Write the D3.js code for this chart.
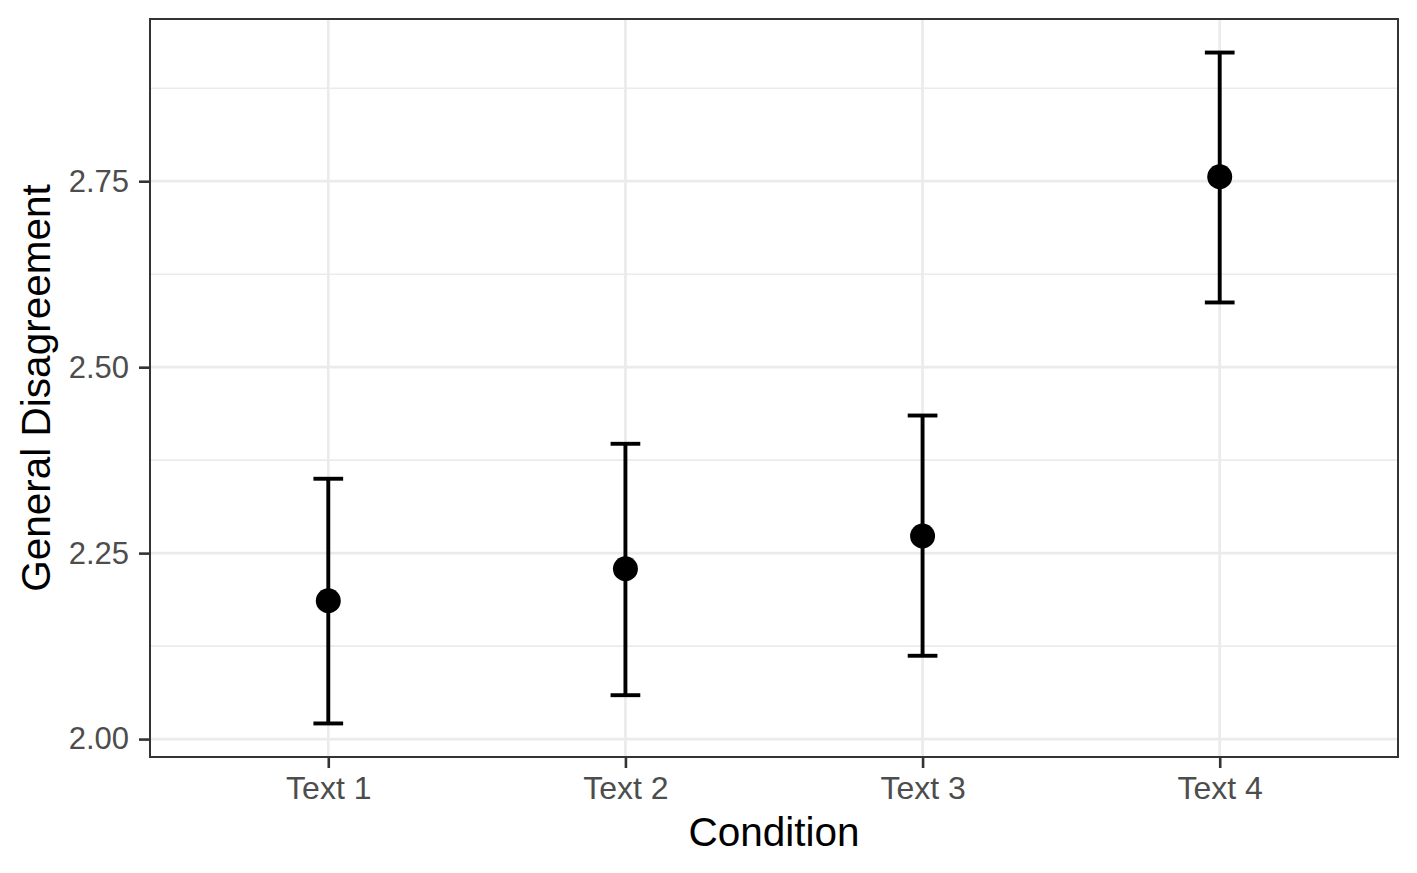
<!DOCTYPE html>
<html>
<head>
<meta charset="utf-8">
<script src="https://cdn.jsdelivr.net/npm/d3@7"></script>
<style>
  body { margin: 0; background: #fff; }
  text { font-family: "Liberation Sans", Arial, Helvetica, sans-serif; }
</style>
</head>
<body>
<script>
// values
const conditions = ["Text 1", "Text 2", "Text 3", "Text 4"];
const means = [2.186, 2.229, 2.273, 2.756];
const lower = [2.021, 2.059, 2.112, 2.587];
const upper = [2.350, 2.397, 2.435, 2.923];
const yTicks = [2.00, 2.25, 2.50, 2.75];
const yMinor = [2.125, 2.375, 2.625, 2.875];

const width = 1417, height = 873;
const panel = { left: 150, right: 1398, top: 19, bottom: 757 };

const svg = d3.select("body").append("svg")
    .attr("width", width)
    .attr("height", height);

// ggplot-like 5% expansion of the data range
const lo = d3.min(lower), hi = d3.max(upper);
const pad = (hi - lo) * 0.05;

const y = d3.scaleLinear()
    .domain([lo - pad, hi + pad])
    .range([panel.bottom, panel.top]);

const x = d3.scalePoint()
    .domain(conditions)
    .range([panel.left, panel.right])
    .padding(0.6);

const capHalf = x.step() * 0.05;

// grid
svg.append("g").selectAll("line")
    .data(yMinor)
    .enter().append("line")
    .attr("x1", panel.left).attr("x2", panel.right)
    .attr("y1", d => y(d)).attr("y2", d => y(d))
    .style("stroke", "#ebebeb")
    .style("stroke-width", 1.6);

svg.append("g").selectAll("line")
    .data(yTicks)
    .enter().append("line")
    .attr("x1", panel.left).attr("x2", panel.right)
    .attr("y1", d => y(d)).attr("y2", d => y(d))
    .style("stroke", "#ebebeb")
    .style("stroke-width", 2.7);

svg.append("g").selectAll("line")
    .data(conditions)
    .enter().append("line")
    .attr("x1", d => x(d)).attr("x2", d => x(d))
    .attr("y1", panel.top).attr("y2", panel.bottom)
    .style("stroke", "#ebebeb")
    .style("stroke-width", 2.7);

// error bars
const rows = conditions.map((c, i) => ({ c: c, m: means[i], lo: lower[i], hi: upper[i] }));

const bars = svg.append("g").selectAll("g")
    .data(rows)
    .enter().append("g");

bars.append("line")
    .attr("x1", d => x(d.c)).attr("x2", d => x(d.c))
    .attr("y1", d => y(d.lo)).attr("y2", d => y(d.hi))
    .style("stroke", "#000").style("stroke-width", 3.9);

bars.selectAll(".cap")
    .data(d => [[d.c, d.lo], [d.c, d.hi]])
    .enter().append("line")
    .attr("class", "cap")
    .attr("x1", d => x(d[0]) - capHalf).attr("x2", d => x(d[0]) + capHalf)
    .attr("y1", d => y(d[1])).attr("y2", d => y(d[1]))
    .style("stroke", "#000").style("stroke-width", 3.9)
    .style("stroke-linecap", "butt");

bars.append("circle")
    .attr("cx", d => x(d.c))
    .attr("cy", d => y(d.m))
    .attr("r", 12.5)
    .style("fill", "#000");

// panel border
svg.append("rect")
    .attr("x", panel.left).attr("y", panel.top)
    .attr("width", panel.right - panel.left)
    .attr("height", panel.bottom - panel.top)
    .style("fill", "none")
    .style("stroke", "#333")
    .style("stroke-width", 2);

// axes
const yAxis = svg.append("g")
    .attr("transform", `translate(${panel.left},0)`)
    .call(d3.axisLeft(y).tickValues(yTicks).tickFormat(d3.format(".2f"))
        .tickSize(11).tickPadding(10));
yAxis.select(".domain").remove();

const xAxis = svg.append("g")
    .attr("transform", `translate(0,${panel.bottom})`)
    .call(d3.axisBottom(x).tickSize(11).tickPadding(8));
xAxis.select(".domain").remove();

svg.selectAll(".tick line").style("stroke", "#333").style("stroke-width", 2.6);
yAxis.selectAll(".tick text")
    .style("font-size", "31px")
    .style("fill", "#4d4d4d");
xAxis.selectAll(".tick text")
    .style("font-size", "32px")
    .style("fill", "#4d4d4d");

// axis titles
svg.append("text")
    .attr("x", (panel.left + panel.right) / 2)
    .attr("y", 846)
    .attr("text-anchor", "middle")
    .style("font-size", "40.5px")
    .style("fill", "#000")
    .text("Condition");

svg.append("text")
    .attr("transform", `translate(50,${(panel.top + panel.bottom) / 2}) rotate(-90)`)
    .attr("text-anchor", "middle")
    .style("font-size", "40.5px")
    .style("fill", "#000")
    .text("General Disagreement");
</script>
</body>
</html>
